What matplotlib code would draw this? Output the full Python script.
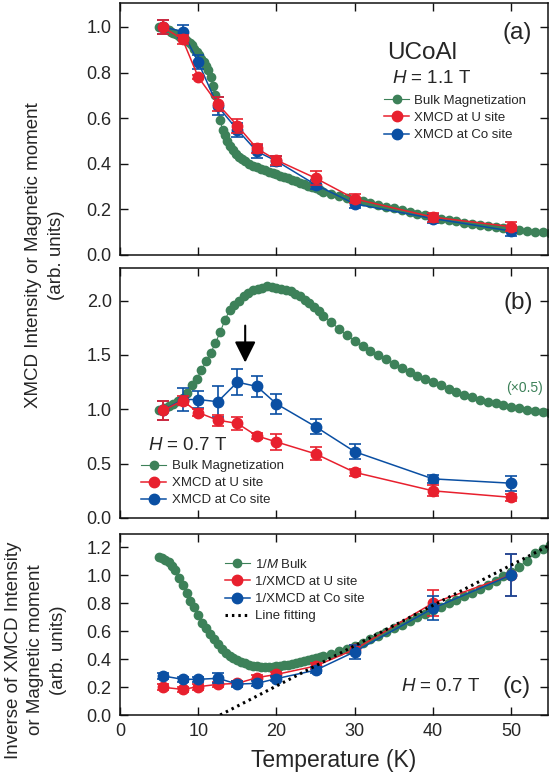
import matplotlib
matplotlib.use("Agg")
import matplotlib.pyplot as plt
from matplotlib.ticker import MultipleLocator, FormatStrFormatter

plt.rcParams['font.family'] = ['Liberation Sans', 'DejaVu Sans']
plt.rcParams['mathtext.fontset'] = 'custom'
plt.rcParams['mathtext.it'] = 'Liberation Sans:italic'
plt.rcParams['mathtext.rm'] = 'Liberation Sans'

# ---------------- data ----------------
xmcd_T = [5.5, 8.0, 10.0, 12.5, 15.0, 17.5, 20.0, 25.0, 30.0, 40.0, 50.0]

# (a) H = 1.1 T
a_bulk_T = [5.0, 5.3, 5.6, 5.9, 6.2, 6.5, 6.8, 7.1, 7.4, 7.7, 8.0, 8.3, 8.6, 8.9, 9.2, 9.5, 9.8,
            10.1, 10.4, 10.7, 11.0, 11.3, 11.6, 11.9, 12.2, 12.5, 12.8, 13.1, 13.4, 13.7, 14.0,
            14.4, 14.8, 15.2, 15.6, 16.0, 16.5, 17.0, 17.5, 18.0, 18.5, 19.0, 19.5, 20.0, 20.5,
            21.0, 21.5, 22.0, 22.5, 23.0, 23.5, 24.0, 24.5, 25.0, 25.5, 26, 27, 28, 29, 30, 31,
            32, 33, 34, 35, 36, 37, 38, 39, 40, 41, 42, 43, 44, 45, 46, 47, 48, 49, 50, 51, 52,
            53, 54, 55]
a_bulk_M = [1.00, 1.00, 0.995, 0.99, 0.985, 0.98, 0.975, 0.97, 0.965, 0.958, 0.95, 0.945, 0.94,
            0.93, 0.92, 0.905, 0.89, 0.875, 0.86, 0.845, 0.83, 0.81, 0.78, 0.74, 0.70, 0.66, 0.59,
            0.55, 0.525, 0.50, 0.48, 0.46, 0.445, 0.43, 0.42, 0.41, 0.40, 0.39, 0.385, 0.378,
            0.372, 0.366, 0.36, 0.355, 0.348, 0.342, 0.336, 0.33, 0.323, 0.317, 0.31, 0.304,
            0.298, 0.292, 0.285, 0.275, 0.266, 0.257, 0.249, 0.242, 0.235, 0.227, 0.220, 0.212,
            0.205, 0.197, 0.189, 0.181, 0.174, 0.163, 0.158, 0.153, 0.148, 0.142, 0.136, 0.131,
            0.126, 0.121, 0.117, 0.113, 0.109, 0.106, 0.102, 0.099, 0.096]
a_U = [1.00, 0.945, 0.78, 0.662, 0.567, 0.467, 0.416, 0.337, 0.246, 0.166, 0.124]
a_U_err = [0.03, 0.02, 0.01, 0.03, 0.03, 0.02, 0.02, 0.03, 0.02, 0.02, 0.02]
a_Co = [1.00, 0.98, 0.845, 0.652, 0.549, 0.454, 0.412, 0.308, 0.224, 0.16, 0.105]
a_Co_err = [0.03, 0.03, 0.03, 0.04, 0.03, 0.03, 0.02, 0.02, 0.02, 0.02, 0.02]

# (b) H = 0.7 T  (bulk shown x0.5)
b_bulk_T = [5.0, 5.6, 6.2, 6.8, 7.4, 8.0, 8.6, 9.2, 9.8, 10.4, 11.0, 11.6, 12.2, 12.8, 13.4,
            14.0, 14.6, 15.2, 15.8, 16.4, 17.0, 17.6, 18.2, 18.8, 19.4, 20.0, 20.6, 21.2, 21.8,
            22.4, 23.0, 23.6, 24.2, 24.8, 25.4, 26, 27, 28, 29, 30, 31, 32, 33, 34, 35, 36, 37,
            38, 39, 40, 41, 42, 43, 44, 45, 46, 47, 48, 49, 50, 51, 52, 53, 54, 55]
b_bulk_M = [0.99, 1.01, 1.03, 1.05, 1.075, 1.10, 1.15, 1.22, 1.28, 1.36, 1.44, 1.52, 1.61,
            1.71, 1.82, 1.91, 1.96, 2.00, 2.04, 2.07, 2.095, 2.11, 2.12, 2.13, 2.125, 2.12,
            2.11, 2.10, 2.085, 2.065, 2.04, 2.01, 1.98, 1.94, 1.90, 1.86, 1.80, 1.74, 1.68,
            1.63, 1.58, 1.54, 1.50, 1.46, 1.42, 1.38, 1.34, 1.31, 1.28, 1.25, 1.22, 1.19, 1.16,
            1.13, 1.11, 1.09, 1.07, 1.055, 1.04, 1.025, 1.01, 0.995, 0.985, 0.975, 0.965]
b_U = [0.99, 1.08, 0.97, 0.90, 0.87, 0.755, 0.70, 0.59, 0.42, 0.25, 0.19]
b_U_err = [0.09, 0.04, 0.03, 0.05, 0.06, 0.03, 0.07, 0.06, 0.03, 0.05, 0.03]
b_Co = [0.99, 1.09, 1.09, 1.07, 1.25, 1.21, 1.05, 0.84, 0.61, 0.36, 0.32]
b_Co_err = [0.09, 0.11, 0.08, 0.14, 0.12, 0.10, 0.09, 0.07, 0.07, 0.04, 0.07]
arrow_T = 16.0
arrow_y = [1.77, 1.43]

# (c) inverse, H = 0.7 T
c_bulk_T = [5.0, 5.4, 5.8, 6.2, 6.6, 7.0, 7.5, 8.0, 8.5, 9.0, 9.5, 10.0, 10.5, 11.0, 11.5,
            12.0, 12.5, 13.0, 13.5, 14.0, 14.5, 15.0, 15.5, 16.0, 16.5, 17.0, 17.5, 18.0, 18.5,
            19.0, 19.5, 20.0, 20.5, 21.0, 21.5, 22.0, 22.5, 23.0, 23.5, 24.0, 24.5, 25.0, 25.5,
            26, 27, 28, 29, 30, 31, 32, 33, 34, 35, 36, 37, 38, 39, 40, 41, 42, 43, 44, 45, 46,
            47, 48, 49, 50, 51, 52, 53, 54, 55]
c_bulk_invM = [1.13, 1.125, 1.11, 1.09, 1.065, 1.035, 0.98, 0.93, 0.87, 0.815, 0.77, 0.715,
               0.66, 0.62, 0.58, 0.545, 0.505, 0.475, 0.445, 0.425, 0.41, 0.393, 0.378, 0.368,
               0.36, 0.353, 0.349, 0.346, 0.345, 0.345, 0.346, 0.348, 0.352, 0.356, 0.36, 0.365,
               0.371, 0.377, 0.383, 0.39, 0.397, 0.404, 0.411, 0.418, 0.435, 0.455, 0.472, 0.49,
               0.515, 0.54, 0.565, 0.59, 0.62, 0.645, 0.67, 0.70, 0.725, 0.75, 0.775, 0.80,
               0.825, 0.85, 0.875, 0.90, 0.93, 0.96, 0.99, 1.02, 1.06, 1.10, 1.155, 1.185, 1.215]
c_U = [0.198, 0.183, 0.202, 0.219, 0.226, 0.267, 0.29, 0.35, 0.469, 0.80, 1.00]
c_U_err = [0.02, 0.02, 0.02, 0.02, 0.02, 0.02, 0.02, 0.02, 0.03, 0.09, 0.15]
c_Co = [0.279, 0.255, 0.255, 0.262, 0.221, 0.226, 0.26, 0.32, 0.452, 0.762, 1.00]
c_Co_err = [0.02, 0.02, 0.02, 0.035, 0.02, 0.02, 0.02, 0.02, 0.05, 0.085, 0.15]
fit_T = [12.8, 55.0]
fit_y = [0.0, 1.215]

# ---------------- style ----------------
GREEN = '#3d8159'
RED = '#e8202e'
BLUE = '#0a4fa3'
TXT = '#262626'

fig = plt.figure(figsize=(5.49, 7.74), dpi=100)
W, H = 549.0, 774.0
L = 120 / W
AW = 428 / W
axa = fig.add_axes([L, 1 - 255 / H, AW, 252 / H])
axb = fig.add_axes([L, 1 - 518 / H, AW, 250 / H])
axc = fig.add_axes([L, 1 - 715 / H, AW, 181 / H])

XMAX = 54.7


def style(ax, ylim, ystep, showx):
    ax.set_xlim(0, XMAX)
    ax.set_ylim(*ylim)
    ax.xaxis.set_major_locator(MultipleLocator(10))
    ax.yaxis.set_major_locator(MultipleLocator(ystep))
    ax.yaxis.set_major_formatter(FormatStrFormatter('%.1f'))
    ax.tick_params(direction='in', top=True, right=True, length=6, width=1.0,
                   labelsize=13, colors='#111111', labelcolor=TXT, pad=6)
    if not showx:
        ax.tick_params(labelbottom=False)
    for s in ax.spines.values():
        s.set_linewidth(1.1)
        s.set_color('#111111')


def xmcd(ax, y, err, color, z, label):
    ax.errorbar(xmcd_T, y, yerr=err, fmt='none', ecolor=color, elinewidth=1.2,
                capsize=4.5, capthick=1.2, zorder=z)
    ln, = ax.plot(xmcd_T, y, '-o', color=color, lw=1.1, ms=7.5, mec=color, zorder=z + 0.1,
                  label=label)
    return ln


LEG = dict(loc='upper left', frameon=False, fontsize=9.5, borderpad=0, borderaxespad=0,
           handlelength=1.9, handletextpad=0.4, labelcolor=TXT, markerscale=1.0,
           labelspacing=0.37)

# ---- (a)
style(axa, (0, 1.105), 0.2, False)
g, = axa.plot(a_bulk_T, a_bulk_M, '-o', color=GREEN, lw=0.8, ms=6, mec=GREEN, zorder=2,
              label='Bulk Magnetization')
b = xmcd(axa, a_Co, a_Co_err, BLUE, 3, 'XMCD at Co site')
r = xmcd(axa, a_U, a_U_err, RED, 4, 'XMCD at U site')
axa.legend([g, r, b], ['Bulk Magnetization', 'XMCD at U site', 'XMCD at Co site'],
           bbox_to_anchor=(0.617, 0.636), **LEG)
axa.text(0.927, 0.881, '(a)', transform=axa.transAxes, ha='center', va='center',
         fontsize=17.5, color=TXT)
axa.text(0.705, 0.80, 'UCoAl', transform=axa.transAxes, ha='center', va='center',
         fontsize=17.5, color=TXT)
axa.text(0.728, 0.70, '$H$ = 1.1 T', transform=axa.transAxes, ha='center', va='center',
         fontsize=13.5, color=TXT)

# ---- (b)
style(axb, (0, 2.3), 0.5, False)
g, = axb.plot(b_bulk_T, b_bulk_M, '-o', color=GREEN, lw=0.8, ms=6, mec=GREEN, zorder=2)
b = xmcd(axb, b_Co, b_Co_err, BLUE, 3, 'XMCD at Co site')
r = xmcd(axb, b_U, b_U_err, RED, 4, 'XMCD at U site')
axb.annotate('', xy=(arrow_T, arrow_y[1]), xytext=(arrow_T, arrow_y[0]),
             arrowprops=dict(arrowstyle='-|>,head_length=0.8,head_width=0.4', color='black',
                             lw=1.5, mutation_scale=16, shrinkA=0, shrinkB=0), zorder=6)
axb.legend([g, r, b], ['Bulk Magnetization', 'XMCD at U site', 'XMCD at Co site'],
           bbox_to_anchor=(0.05, 0.232), **LEG)
axb.text(0.93, 0.86, '(b)', transform=axb.transAxes, ha='center', va='center',
         fontsize=17.5, color=TXT)
axb.text(0.157, 0.29, '$H$ = 0.7 T', transform=axb.transAxes, ha='center', va='center',
         fontsize=13.5, color=TXT)
axb.text(0.946, 0.52, '(×0.5)', transform=axb.transAxes, ha='center', va='center',
         fontsize=10, color=GREEN)

# ---- (c)
style(axc, (0, 1.293), 0.2, True)
g, = axc.plot(c_bulk_T, c_bulk_invM, '-o', color=GREEN, lw=0.8, ms=6, mec=GREEN, zorder=2)
r = xmcd(axc, c_U, c_U_err, RED, 3, '1/XMCD at U site')
b = xmcd(axc, c_Co, c_Co_err, BLUE, 4, '1/XMCD at Co site')
f, = axc.plot(fit_T, fit_y, color='black', lw=2.2, ls=(0, (0.8, 1.3)), zorder=5)
axc.legend([g, r, b, f], ['1/$M$ Bulk', '1/XMCD at U site', '1/XMCD at Co site',
                          'Line fitting'],
           bbox_to_anchor=(0.245, 0.868), **LEG)
axc.text(0.927, 0.155, '(c)', transform=axc.transAxes, ha='center', va='center',
         fontsize=17.5, color=TXT)
axc.text(0.748, 0.155, '$H$ = 0.7 T', transform=axc.transAxes, ha='center', va='center',
         fontsize=13.5, color=TXT)
axc.set_xlabel('Temperature (K)', fontsize=16.5, color=TXT, labelpad=6)

# ---- y labels
fig.text(45 / W, 1 - 255 / H, 'XMCD Intensity or Magnetic moment\n(arb. units)',
         rotation=90, ha='center', va='center', ma='center', fontsize=13.5,
         color=TXT, linespacing=1.4)
fig.text(36 / W, 1 - 650 / H, 'Inverse of XMCD Intensity\nor Magnetic moment\n(arb. units)',
         rotation=90, ha='center', va='center', ma='center', fontsize=13.5,
         color=TXT, linespacing=1.4)

fig.savefig('out.png', dpi=100)
